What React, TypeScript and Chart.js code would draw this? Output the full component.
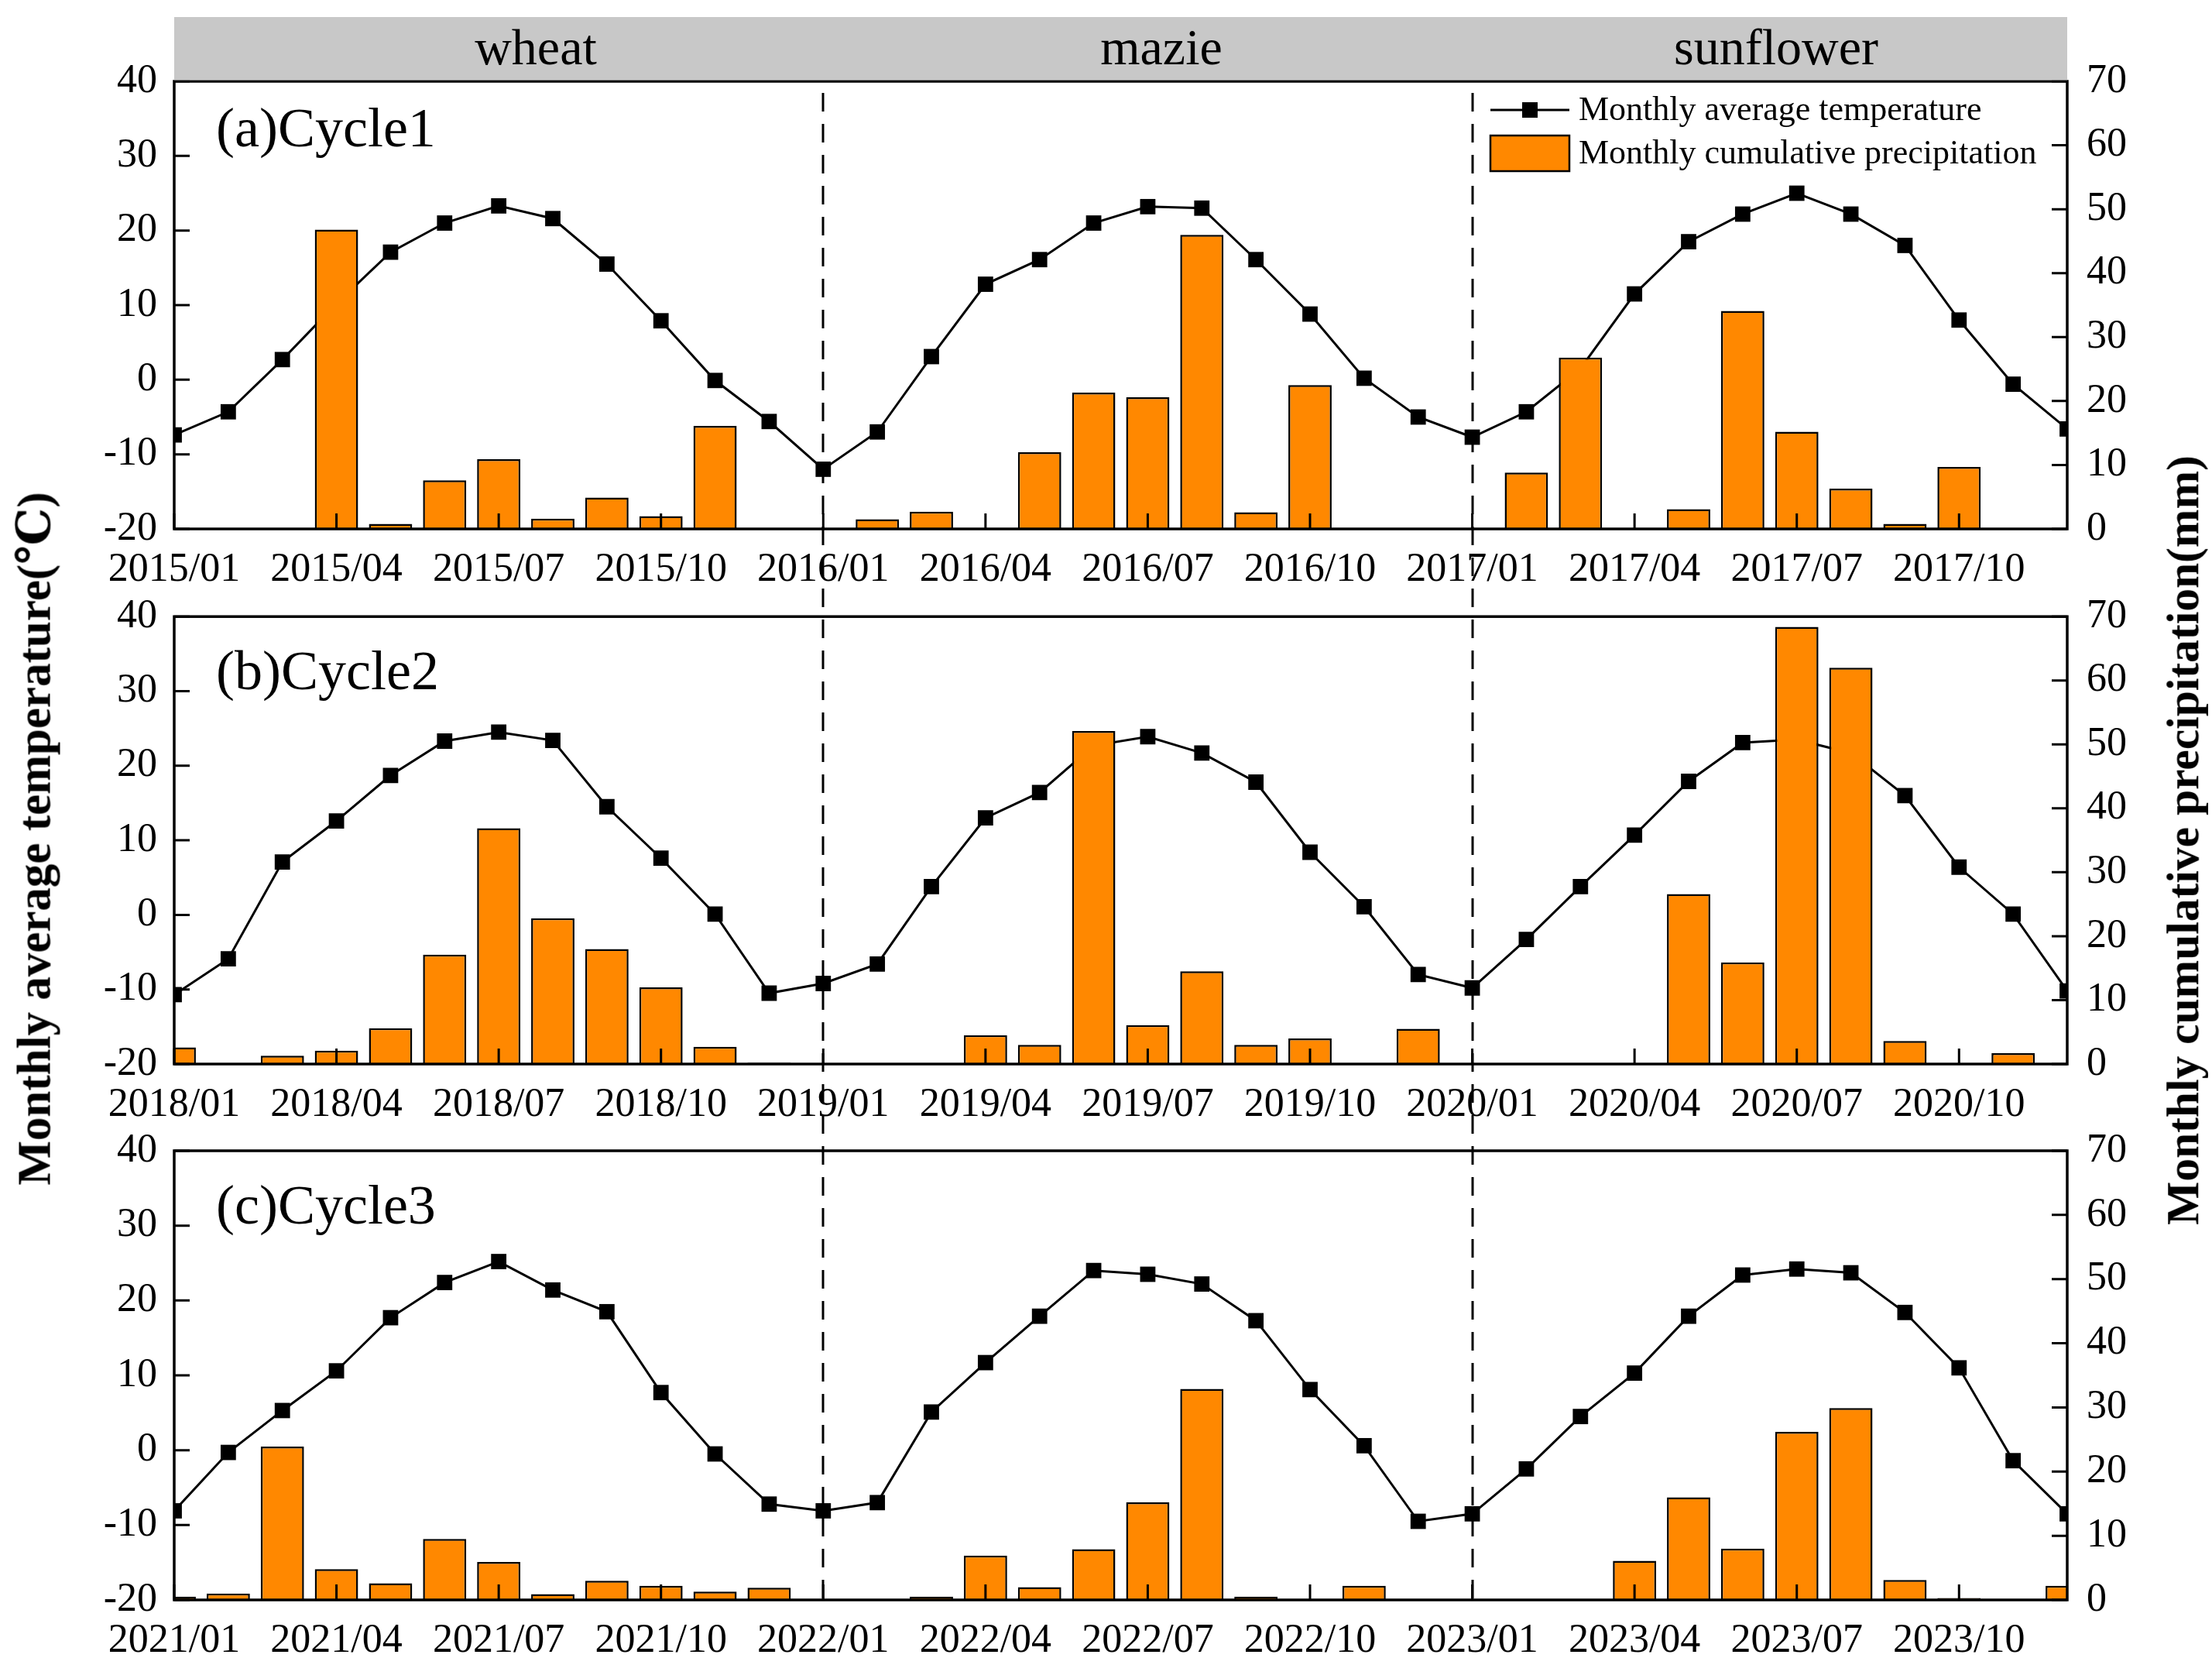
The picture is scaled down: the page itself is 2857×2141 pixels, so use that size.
import React, { useEffect, useRef } from "react";
import { Chart, registerables } from "chart.js";

Chart.register(...registerables);

// ---------------- data ----------------
const MONTHS = ["01", "02", "03", "04", "05", "06", "07", "08", "09", "10", "11", "12"];
const CYCLE1_YEARS = [2015, 2016, 2017];
const CYCLE2_YEARS = [2018, 2019, 2020];
const CYCLE3_YEARS = [2021, 2022, 2023];

const CROPS = ["wheat", "mazie", "sunflower"];
const PANEL_TITLES = ["(a)Cycle1", "(b)Cycle2", "(c)Cycle3"];
const SERIES_LABELS = ["Monthly average temperature", "Monthly cumulative precipitation"];
const AXIS_TITLES = ["Monthly average temperature(\u2103)", "Monthly cumulative precipitation(mm)"];
const TEMP_AXIS = [-20, 40, 10]; // min, max, step
const PRECIP_AXIS = [0, 70, 10];
const CROP_BOUNDARY_INDEX = [12, 24];
const LABEL_EVERY = 3;

const TEMP_C1 = [
  -7.4, -4.3, 2.7, 10.2, 17.1, 21.0, 23.3, 21.6, 15.5, 7.9, -0.1, -5.6,
  -12.0, -7.0, 3.1, 12.8, 16.1, 21.0, 23.2, 23.0, 16.1, 8.8, 0.2, -5.0,
  -7.7, -4.3, 1.5, 11.5, 18.5, 22.2, 25.0, 22.2, 18.0, 8.0, -0.6, -6.6,
];
const PRECIP_C1 = [
  0, 0, 0, 46.8, 0.8, 7.6, 10.9, 1.6, 4.9, 2.0, 16.1, 0,
  0, 1.5, 2.7, 0, 12.0, 21.3, 20.6, 46.0, 2.6, 22.5, 0, 0,
  0, 8.8, 26.8, 0, 3.1, 34.1, 15.2, 6.3, 0.8, 9.7, 0, 0,
];
const TEMP_C2 = [
  -10.7, -5.9, 7.1, 12.6, 18.7, 23.3, 24.5, 23.4, 14.5, 7.6, 0.1, -10.5,
  -9.2, -6.6, 3.8, 13.0, 16.4, 22.7, 23.9, 21.7, 17.8, 8.4, 1.1, -8.0,
  -9.8, -3.3, 3.8, 10.7, 17.9, 23.1, 23.5, 21.7, 16.0, 6.4, 0.1, -10.2,
];
const PRECIP_C2 = [
  2.6, 0, 1.3, 2.1, 5.6, 17.1, 36.9, 22.8, 18.0, 12.0, 2.7, 0.2,
  0, 0, 0.1, 4.5, 3.0, 52.1, 6.1, 14.5, 3.0, 4.0, 0, 5.5,
  0, 0, 0, 0, 26.6, 15.9, 68.4, 62.0, 3.6, 0, 1.7, 0,
];
const TEMP_C3 = [
  -8.1, -0.3, 5.3, 10.6, 17.7, 22.4, 25.2, 21.4, 18.5, 7.7, -0.5, -7.2,
  -8.1, -7.0, 5.1, 11.7, 17.9, 24.0, 23.5, 22.2, 17.3, 8.1, 0.6, -9.5,
  -8.5, -2.5, 4.5, 10.3, 17.9, 23.4, 24.2, 23.7, 18.4, 11.0, -1.4, -8.5,
];
const PRECIP_C3 = [
  0.5, 1.0, 23.9, 4.8, 2.6, 9.5, 5.9, 0.9, 3.0, 2.2, 1.3, 1.9,
  0, 0, 0.5, 6.9, 2.0, 7.9, 15.2, 32.9, 0.5, 0, 2.2, 0,
  0, 0, 0, 6.1, 16.0, 8.0, 26.2, 29.9, 3.1, 0.3, 0, 2.2,
];

const monthLabels = (years: number[]) =>
  years.flatMap((y) => MONTHS.map((m) => `${y}/${m}`));

// ---------------- style / layout ----------------
const W = 2857;
const H_PAGE = 2141;
const PLOT_LEFT = 225;
const PLOT_RIGHT = 2670;
const ORANGE = "#FF8800";
const FONT = "'Liberation Serif', 'Times New Roman', 'DejaVu Serif', serif";

type PanelCfg = {
  labels: string[];
  temp: number[];
  precip: number[];
  title: string;
  canvasTop: number;
  canvasBottom: number;
  areaTop: number;
  areaBottom: number;
  dashFrom: number;
  dashTo: number;
  titleBaseline: number;
  first: boolean;
};

const PANELS: PanelCfg[] = [
  {
    labels: monthLabels(CYCLE1_YEARS), temp: TEMP_C1, precip: PRECIP_C1, title: PANEL_TITLES[0],
    canvasTop: 0, canvasBottom: 800, areaTop: 105, areaBottom: 683,
    dashFrom: 105, dashTo: 760, titleBaseline: 189, first: true,
  },
  {
    labels: monthLabels(CYCLE2_YEARS), temp: TEMP_C2, precip: PRECIP_C2, title: PANEL_TITLES[1],
    canvasTop: 740, canvasBottom: 1480, areaTop: 795, areaBottom: 1374,
    dashFrom: 760, dashTo: 1450, titleBaseline: 890, first: false,
  },
  {
    labels: monthLabels(CYCLE3_YEARS), temp: TEMP_C3, precip: PRECIP_C3, title: PANEL_TITLES[2],
    canvasTop: 1420, canvasBottom: 2141, areaTop: 1486, areaBottom: 2066,
    dashFrom: 1450, dashTo: 2066, titleBaseline: 1580, first: false,
  },
];

const HEADER_TOP = 22;
const HEADER_TEXT_X = [692, 1500, 2294];

function Panel({ cfg }: { cfg: PanelCfg }) {
  const ref = useRef<HTMLCanvasElement | null>(null);
  const H = cfg.canvasBottom - cfg.canvasTop;

  useEffect(() => {
    if (!ref.current) return;
    const off = cfg.canvasTop;
    const decor = {
      id: "decor",
      afterDraw(chart: any) {
        const ctx = chart.ctx as CanvasRenderingContext2D;
        const { left, right, top, bottom } = chart.chartArea;
        const xs = chart.scales.x;
        const yT = chart.scales.yT;
        const yP = chart.scales.yP;
        ctx.save();

        // dashed crop boundaries
        ctx.strokeStyle = "#000";
        ctx.lineWidth = 3;
        ctx.setLineDash([24, 16]);
        CROP_BOUNDARY_INDEX.forEach((idx) => {
          const x = Math.round(xs.getPixelForValue(idx));
          ctx.lineDashOffset = cfg.dashFrom;
          ctx.beginPath();
          ctx.moveTo(x, cfg.dashFrom - off);
          ctx.lineTo(x, cfg.dashTo - off);
          ctx.stroke();
        });
        ctx.setLineDash([]);

        // frame
        ctx.lineWidth = 3.5;
        ctx.strokeRect(left, top, right - left, bottom - top);

        // inward ticks
        ctx.lineWidth = 3;
        ctx.beginPath();
        for (let i = 0; i < cfg.labels.length; i += LABEL_EVERY) {
          const x = xs.getPixelForTick(i);
          ctx.moveTo(x, bottom);
          ctx.lineTo(x, bottom - 20);
        }
        yT.ticks.forEach((t: any) => {
          const y = yT.getPixelForValue(t.value);
          ctx.moveTo(left, y);
          ctx.lineTo(left + 20, y);
        });
        yP.ticks.forEach((t: any) => {
          const y = yP.getPixelForValue(t.value);
          ctx.moveTo(right, y);
          ctx.lineTo(right - 20, y);
        });
        ctx.stroke();

        // panel title
        ctx.fillStyle = "#000";
        ctx.font = `72px ${FONT}`;
        ctx.textAlign = "left";
        ctx.textBaseline = "alphabetic";
        ctx.fillText(cfg.title, 279, cfg.titleBaseline - off);

        if (cfg.first) {
          // header band
          ctx.fillStyle = "#c8c8c8";
          ctx.fillRect(left, HEADER_TOP, right - left, top - HEADER_TOP - 1.5);
          ctx.fillStyle = "#000";
          ctx.font = `66px ${FONT}`;
          ctx.textAlign = "center";
          ctx.textBaseline = "middle";
          CROPS.forEach((c, i) => ctx.fillText(c, HEADER_TEXT_X[i], (HEADER_TOP + top) / 2 + 2));

          // legend
          const lx0 = 1925, lx1 = 2027, tx = 2039;
          ctx.lineWidth = 3;
          ctx.strokeStyle = "#000";
          ctx.beginPath();
          ctx.moveTo(lx0, 142);
          ctx.lineTo(lx1, 142);
          ctx.stroke();
          ctx.fillRect((lx0 + lx1) / 2 - 10, 132, 20, 20);
          ctx.fillStyle = ORANGE;
          ctx.fillRect(lx0, 175, lx1 - lx0, 46);
          ctx.lineWidth = 2.5;
          ctx.strokeRect(lx0, 175, lx1 - lx0, 46);
          ctx.fillStyle = "#000";
          ctx.font = `44px ${FONT}`;
          ctx.textAlign = "left";
          ctx.textBaseline = "middle";
          ctx.fillText(chart.data.datasets[1].label, tx, 143);
          ctx.fillText(chart.data.datasets[0].label, tx, 199);
        }
        ctx.restore();
      },
    };

    const tickFont = { family: FONT, size: 52 };
    const chart = new Chart(ref.current, {
      type: "bar",
      data: {
        labels: cfg.labels,
        datasets: [
          {
            type: "bar",
            label: SERIES_LABELS[1],
            data: cfg.precip,
            yAxisID: "yP",
            backgroundColor: ORANGE,
            borderColor: "#000",
            borderWidth: 2.5,
            barPercentage: 0.8,
            categoryPercentage: 1,
            order: 0,
            clip: 0,
          } as any,
          {
            type: "line",
            label: SERIES_LABELS[0],
            data: cfg.temp,
            yAxisID: "yT",
            borderColor: "#000",
            borderWidth: 3,
            pointStyle: "rect",
            pointRadius: 14,
            pointBackgroundColor: "#000",
            pointBorderColor: "#000",
            pointBorderWidth: 0,
            tension: 0,
            order: 1,
            clip: 0,
          } as any,
        ],
      },
      options: {
        animation: false,
        responsive: false,
        devicePixelRatio: 1,
        events: [],
        layout: { padding: { top: cfg.areaTop - off, left: 0, right: 0, bottom: 0 } },
        plugins: { legend: { display: false }, tooltip: { enabled: false } },
        scales: {
          x: {
            type: "category",
            offset: false,
            grid: { display: false, drawTicks: false },
            border: { display: false },
            ticks: {
              autoSkip: false,
              maxRotation: 0,
              minRotation: 0,
              padding: 22,
              color: "#000",
              font: tickFont,
              callback: (_v: any, i: number) => (i % LABEL_EVERY === 0 ? cfg.labels[i] : ""),
            },
            afterFit: (s: any) => {
              s.height = cfg.canvasBottom - cfg.areaBottom;
            },
          },
          yT: {
            type: "linear",
            position: "left",
            min: TEMP_AXIS[0],
            max: TEMP_AXIS[1],
            grid: { display: false, drawTicks: false },
            border: { display: false },
            ticks: { stepSize: TEMP_AXIS[2], padding: 22, color: "#000", font: tickFont },
            afterFit: (s: any) => {
              s.width = PLOT_LEFT;
            },
          },
          yP: {
            type: "linear",
            position: "right",
            min: PRECIP_AXIS[0],
            max: PRECIP_AXIS[1],
            grid: { display: false, drawTicks: false },
            border: { display: false },
            ticks: { stepSize: PRECIP_AXIS[2], padding: 25, color: "#000", font: tickFont },
            afterFit: (s: any) => {
              s.width = W - PLOT_RIGHT;
            },
          },
        },
      } as any,
      plugins: [decor],
    });
    return () => chart.destroy();
  }, [cfg]);

  return (
    <canvas
      ref={ref}
      width={W}
      height={H}
      style={{ position: "absolute", left: 0, top: cfg.canvasTop, width: W, height: H }}
    />
  );
}

export default function App() {
  const titleStyle: React.CSSProperties = {
    position: "absolute",
    transform: "translate(-50%, -50%) rotate(-90deg)",
    fontFamily: FONT,
    fontWeight: "bold",
    whiteSpace: "nowrap",
    lineHeight: 1,
    color: "#000",
  };
  return (
    <div
      style={{
        position: "absolute",
        left: 0,
        top: 0,
        width: W,
        height: H_PAGE,
        background: "#fff",
        overflow: "hidden",
      }}
    >
      {PANELS.map((p, i) => (
        <Panel key={i} cfg={p} />
      ))}
      <div style={{ ...titleStyle, fontSize: 61, left: 44, top: 1083 }}>{AXIS_TITLES[0]}</div>
      <div style={{ ...titleStyle, fontSize: 59.5, left: 2820, top: 1085 }}>{AXIS_TITLES[1]}</div>
    </div>
  );
}
